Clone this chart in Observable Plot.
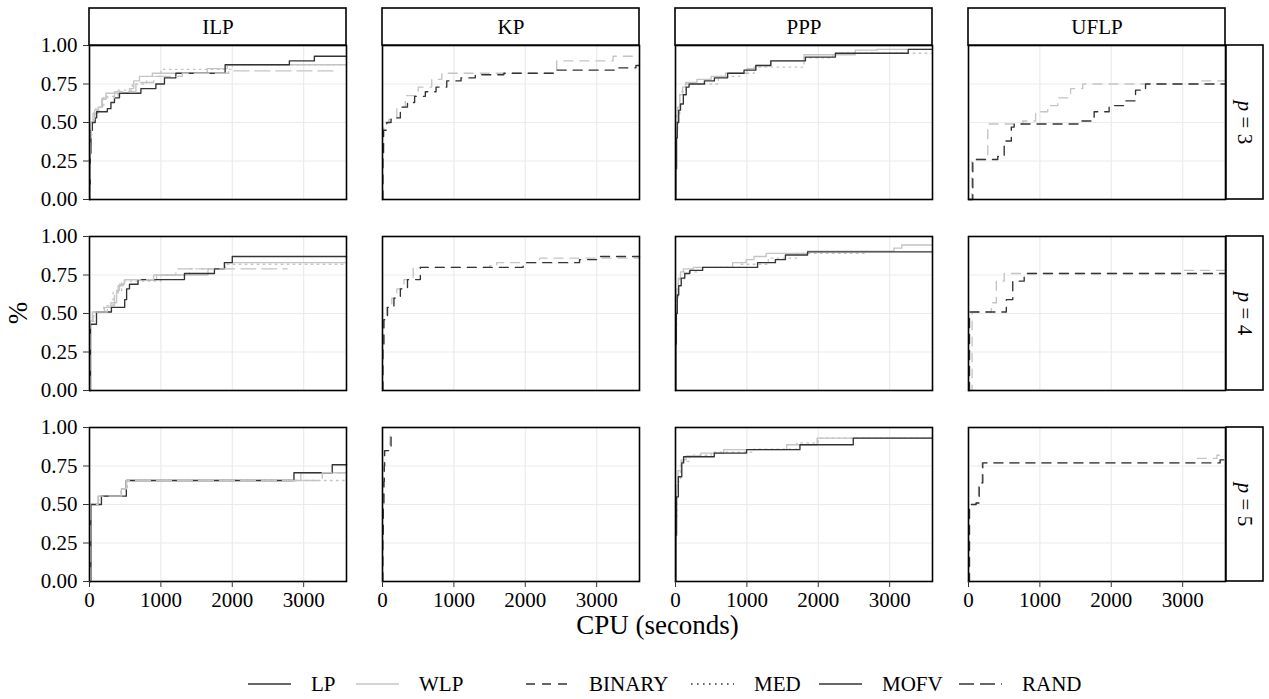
<!DOCTYPE html>
<html><head><meta charset="utf-8">
<script src="https://cdn.jsdelivr.net/npm/d3@7"></script>
<script src="https://cdn.jsdelivr.net/npm/@observablehq/plot@0.6"></script>
<style>
body{margin:0;background:#fff;}
#chart{position:relative;width:1269px;height:699px;background:#fff;font-family:"Liberation Serif",serif;}
#chart svg{display:block;}
#chart svg, #chart svg text{font-family:"Liberation Serif",serif !important;}
</style></head><body><div id="chart"></div>
<script>
// ---------- categories / ticks ----------
const problems = ["ILP", "KP", "PPP", "UFLP"];
const pValues = ["3", "4", "5"];
const models = ["LP", "WLP"];
const rules = ["BINARY", "MED", "MOFV", "RAND"];
const xTicks = [0, 1000, 2000, 3000];
const yTicks = [0, 0.25, 0.5, 0.75, 1];

// ---------- series: [CPU seconds, fraction solved] ----------
// ILP, p = 3
const ILP3_WLP_MED  = [[0,0],[10,0.4],[30,0.52],[90,0.6],[200,0.67],[400,0.71],[600,0.75],[800,0.8],[1000,0.845],[1500,0.845],[2000,0.875],[3600,0.875]];
const ILP3_WLP_RAND = [[0,0],[8,0.4],[25,0.52],[70,0.58],[180,0.66],[350,0.7],[650,0.76],[900,0.8],[1300,0.82],[1950,0.835],[3480,0.835]];
const ILP3_WLP_MOFV = [[0,0],[8,0.35],[20,0.5],[50,0.56],[120,0.6],[170,0.65],[230,0.69],[560,0.72],[620,0.77],[700,0.8],[880,0.82],[1650,0.85],[1930,0.875],[3600,0.875]];
const ILP3_LP_MOFV  = [[0,0],[10,0.3],[20,0.45],[40,0.5],[80,0.53],[100,0.57],[250,0.59],[300,0.63],[350,0.66],[420,0.69],[720,0.72],[930,0.75],[1050,0.79],[1210,0.82],[1900,0.875],[2800,0.9],[3150,0.93],[3600,0.93]];
// KP, p = 3
const KP3_WLP_BIN = [[0,0],[5,0.35],[15,0.5],[90,0.52],[200,0.6],[320,0.675],[500,0.73],[690,0.78],[830,0.82],[2440,0.9],[3230,0.93],[3600,0.93]];
const KP3_LP_BIN  = [[0,0],[5,0.3],[15,0.45],[60,0.5],[120,0.53],[250,0.6],[350,0.63],[450,0.67],[600,0.7],[750,0.73],[900,0.77],[1100,0.79],[1300,0.81],[1700,0.82],[2400,0.84],[3300,0.855],[3550,0.87],[3600,0.87]];
// PPP, p = 3
const PPP3_WLP_MED  = [[0,0],[5,0.4],[20,0.55],[60,0.7],[150,0.75],[600,0.8],[900,0.82],[1100,0.86],[1800,0.92],[2200,0.95],[3600,0.95]];
const PPP3_WLP_MOFV = [[0,0],[4,0.3],[10,0.45],[30,0.6],[60,0.68],[100,0.73],[140,0.76],[300,0.78],[500,0.8],[700,0.82],[1000,0.85],[1125,0.87],[1335,0.9],[1800,0.94],[2520,0.97],[2820,0.975],[3600,0.975]];
const PPP3_LP_MOFV  = [[0,0],[5,0.2],[15,0.4],[25,0.5],[45,0.58],[70,0.62],[110,0.68],[150,0.73],[190,0.75],[405,0.77],[545,0.79],[730,0.82],[960,0.84],[1125,0.87],[1335,0.9],[1820,0.925],[2240,0.95],[3260,0.975],[3600,0.975]];
// UFLP, p = 3
const UFLP3_WLP_BIN = [[0,0],[45,0.26],[270,0.49],[760,0.51],[940,0.57],[1110,0.61],[1250,0.66],[1430,0.72],[1600,0.75],[3250,0.77],[3600,0.77]];
const UFLP3_LP_BIN  = [[0,0],[60,0.26],[410,0.28],[500,0.38],[600,0.47],[640,0.49],[1570,0.51],[1760,0.57],[1970,0.61],[2200,0.64],[2340,0.71],[2480,0.75],[3600,0.75]];
// ILP, p = 4
const ILP4_WLP_MED  = [[0,0],[10,0.45],[60,0.51],[200,0.55],[330,0.64],[450,0.71],[1000,0.75],[1400,0.79],[1900,0.82],[3600,0.82]];
const ILP4_WLP_RAND = [[0,0],[10,0.45],[50,0.51],[250,0.55],[350,0.62],[400,0.68],[470,0.72],[900,0.75],[1210,0.79],[2770,0.79]];
const ILP4_WLP_MOFV = [[0,0],[10,0.45],[40,0.51],[210,0.54],[300,0.57],[380,0.65],[420,0.69],[490,0.72],[940,0.75],[1660,0.79],[1890,0.83],[3600,0.83]];
const ILP4_LP_MOFV  = [[0,0],[15,0.43],[98,0.51],[307,0.54],[493,0.59],[520,0.66],[560,0.69],[680,0.72],[1330,0.76],[1750,0.79],[1890,0.83],[2000,0.87],[3600,0.87]];
// KP, p = 4
const KP4_WLP_BIN = [[0,0],[5,0.3],[15,0.46],[60,0.54],[130,0.6],[200,0.66],[300,0.72],[430,0.8],[1500,0.81],[1600,0.83],[2200,0.86],[3600,0.87]];
const KP4_LP_BIN  = [[0,0],[5,0.3],[20,0.46],[70,0.54],[160,0.6],[250,0.66],[350,0.72],[530,0.8],[1970,0.83],[2760,0.85],[3050,0.87],[3600,0.87]];
// PPP, p = 4
const PPP4_WLP_MED  = [[0,0],[5,0.4],[15,0.6],[40,0.72],[120,0.77],[300,0.8],[900,0.82],[1300,0.86],[1700,0.89],[2690,0.89]];
const PPP4_WLP_MOFV = [[0,0],[4,0.35],[10,0.55],[20,0.66],[40,0.73],[70,0.77],[110,0.79],[250,0.8],[800,0.83],[990,0.85],[1100,0.87],[1270,0.89],[1850,0.905],[3060,0.925],[3170,0.945],[3600,0.945]];
const PPP4_LP_MOFV  = [[0,0],[5,0.3],[12,0.5],[25,0.62],[45,0.68],[80,0.73],[130,0.76],[200,0.78],[380,0.8],[1150,0.83],[1400,0.85],[1540,0.88],[1850,0.9],[3600,0.9]];
// UFLP, p = 4
const UFLP4_WLP_BIN = [[0,0],[50,0.51],[320,0.57],[390,0.71],[500,0.76],[2970,0.78],[3600,0.78]];
const UFLP4_LP_BIN  = [[0,0],[14,0.51],[530,0.59],[620,0.71],[780,0.76],[3600,0.76]];
// ILP, p = 5
const ILP5_WLP_MED  = [[0,0],[15,0.5],[130,0.554],[440,0.602],[530,0.656],[3600,0.656]];
const ILP5_WLP_RAND = [[0,0],[15,0.5],[120,0.554],[450,0.602],[520,0.656],[3260,0.706],[3600,0.706]];
const ILP5_WLP_MOFV = [[0,0],[15,0.5],[121,0.554],[446,0.602],[516,0.656],[2960,0.706],[3600,0.706]];
const ILP5_LP_MOFV  = [[0,0],[20,0.5],[167,0.554],[516,0.656],[2864,0.706],[3400,0.758],[3600,0.758]];
// KP, p = 5
const KP5_WLP_BIN = [[0,0],[3,0.35],[8,0.55],[15,0.7],[22,0.8],[28,0.85],[100,0.9],[106,0.95],[160,0.95]];
const KP5_LP_BIN  = [[0,0],[4,0.3],[10,0.5],[20,0.65],[25,0.75],[30,0.85],[110,0.85],[120,0.95],[175,0.95]];
// PPP, p = 5
const PPP5_WLP_MED  = [[0,0],[5,0.4],[20,0.65],[70,0.78],[200,0.82],[500,0.84],[1100,0.86],[1700,0.9],[2000,0.93],[3600,0.93]];
const PPP5_WLP_MOFV = [[0,0],[4,0.35],[12,0.6],[35,0.72],[80,0.79],[150,0.815],[356,0.834],[675,0.856],[1557,0.888],[1984,0.931],[3600,0.931]];
const PPP5_LP_MOFV  = [[0,0],[5,0.3],[15,0.55],[40,0.68],[88,0.77],[114,0.81],[543,0.834],[996,0.856],[1743,0.888],[2490,0.931],[3600,0.931]];
// UFLP, p = 5
const UFLP5_WLP_BIN = [[0,0],[10,0.5],[100,0.51],[140,0.64],[190,0.77],[3200,0.8],[3480,0.82],[3600,0.82]];
const UFLP5_LP_BIN  = [[0,0],[14,0.5],[107,0.51],[150,0.64],[200,0.77],[3525,0.79],[3600,0.79]];

// ---------- curve table ----------
const curves = [
  ["ILP","3","WLP","MED",ILP3_WLP_MED],["ILP","3","WLP","RAND",ILP3_WLP_RAND],["ILP","3","WLP","MOFV",ILP3_WLP_MOFV],["ILP","3","LP","MOFV",ILP3_LP_MOFV],
  ["KP","3","WLP","BINARY",KP3_WLP_BIN],["KP","3","LP","BINARY",KP3_LP_BIN],
  ["PPP","3","WLP","MED",PPP3_WLP_MED],["PPP","3","WLP","MOFV",PPP3_WLP_MOFV],["PPP","3","LP","MOFV",PPP3_LP_MOFV],
  ["UFLP","3","WLP","BINARY",UFLP3_WLP_BIN],["UFLP","3","LP","BINARY",UFLP3_LP_BIN],
  ["ILP","4","WLP","MED",ILP4_WLP_MED],["ILP","4","WLP","RAND",ILP4_WLP_RAND],["ILP","4","WLP","MOFV",ILP4_WLP_MOFV],["ILP","4","LP","MOFV",ILP4_LP_MOFV],
  ["KP","4","WLP","BINARY",KP4_WLP_BIN],["KP","4","LP","BINARY",KP4_LP_BIN],
  ["PPP","4","WLP","MED",PPP4_WLP_MED],["PPP","4","WLP","MOFV",PPP4_WLP_MOFV],["PPP","4","LP","MOFV",PPP4_LP_MOFV],
  ["UFLP","4","WLP","BINARY",UFLP4_WLP_BIN],["UFLP","4","LP","BINARY",UFLP4_LP_BIN],
  ["ILP","5","WLP","MED",ILP5_WLP_MED],["ILP","5","WLP","RAND",ILP5_WLP_RAND],["ILP","5","WLP","MOFV",ILP5_WLP_MOFV],["ILP","5","LP","MOFV",ILP5_LP_MOFV],
  ["KP","5","WLP","BINARY",KP5_WLP_BIN],["KP","5","LP","BINARY",KP5_LP_BIN],
  ["PPP","5","WLP","MED",PPP5_WLP_MED],["PPP","5","WLP","MOFV",PPP5_WLP_MOFV],["PPP","5","LP","MOFV",PPP5_LP_MOFV],
  ["UFLP","5","WLP","BINARY",UFLP5_WLP_BIN],["UFLP","5","LP","BINARY",UFLP5_LP_BIN]
];
const rows = curves.flatMap(([problem, p, model, rule, pts], id) =>
  pts.map(([t, v]) => ({problem, p, model, rule, id, t, v})));

// ---------- layout ----------
const W = 1269, H = 672, ML = 88, MR = 42, MT = 45, MB = 91;
const fxPad = 0.1215, fyPad = 0.194;
const bw = (W - ML - MR) / (problems.length - fxPad) * (1 - fxPad);
const bh = (H - MT - MB) / (pValues.length - fyPad) * (1 - fyPad);
const stripH = 37, stripW = 38;
const DARK = "#333333", LIGHT = "#c4c4c4";
const FONT = '"Liberation Serif", serif';
const dash = {BINARY: "9,7", MED: "1.6,4.4", MOFV: null, RAND: "15,6"};

const lineMarks = rules.map(r => Plot.line(rows.filter(d => d.rule === r), {
  x: "t", y: "v", z: "id", stroke: "model", fx: "problem", fy: "p",
  curve: "step-after", strokeWidth: 1.35, strokeDasharray: dash[r] || undefined
}));

const topStrip = problems.map(problem => ({problem, p: pValues[0]}));
const rightStrip = pValues.map(p => ({problem: problems[problems.length - 1], p}));

const plot = Plot.plot({
  width: W, height: H,
  marginLeft: ML, marginRight: MR, marginTop: MT, marginBottom: MB,
  style: {fontFamily: FONT, fontSize: "21px", color: "black", background: "white"},
  fx: {domain: problems, paddingInner: fxPad, paddingOuter: 0, axis: null, label: null},
  fy: {domain: pValues, paddingInner: fyPad, paddingOuter: 0, axis: null, label: null},
  x: {domain: [0, 3600], label: null},
  y: {domain: [0, 1], label: null},
  color: {domain: models, range: [DARK, LIGHT]},
  marks: [
    Plot.gridX(xTicks, {stroke: "#ebebeb", strokeOpacity: 1, strokeWidth: 1.2}),
    Plot.gridY(yTicks, {stroke: "#ebebeb", strokeOpacity: 1, strokeWidth: 1.2}),
    ...lineMarks,
    Plot.frame({stroke: "black", strokeWidth: 1.6}),
    Plot.axisX(xTicks, {tickSize: 6, tickPadding: 5, label: null, tickFormat: d3.format("d"), stroke: "#333", fill: "black", fontSize: 21}),
    Plot.axisY(yTicks, {tickSize: 6, tickPadding: 6, label: null, tickFormat: d3.format(".2f"), stroke: "#333", fill: "black", fontSize: 21}),
    Plot.rect(topStrip, {fx: "problem", fy: "p", insetTop: -stripH, insetBottom: bh, fill: "white", stroke: "black", strokeWidth: 1.6}),
    Plot.text(topStrip, {fx: "problem", fy: "p", text: "problem", frameAnchor: "top", lineAnchor: "middle", textAnchor: "middle", dy: -stripH / 2, fill: "black", fontSize: 21}),
    Plot.rect(rightStrip, {fx: "problem", fy: "p", insetLeft: bw, insetRight: -stripW, fill: "white", stroke: "black", strokeWidth: 1.6}),
    Plot.text(rightStrip, {fx: "problem", fy: "p", text: d => "p = " + d.p, frameAnchor: "right", lineAnchor: "middle", textAnchor: "middle", dx: stripW / 2, rotate: 90, fill: "black", fontSize: 21})
  ]
});

const svg = d3.select(plot);
// italic p in row strips
svg.selectAll("text").filter(function () { return /^p = /.test(this.textContent); }).each(function () {
  const rest = this.textContent.slice(1);
  this.textContent = "";
  d3.select(this).append("tspan").attr("font-style", "italic").text("p");
  d3.select(this).append("tspan").text(rest);
});
// axis titles
svg.append("text").attr("x", ML + (W - ML - MR) / 2).attr("y", 634)
  .attr("text-anchor", "middle").attr("font-size", 27).attr("fill", "black")
  .attr("font-family", FONT).text("CPU (seconds)");
svg.append("text").attr("transform", `translate(18,${MT + (H - MT - MB) / 2}) rotate(-90)`)
  .attr("text-anchor", "middle").attr("dominant-baseline", "central")
  .attr("font-size", 27).attr("fill", "black").attr("font-family", FONT).text("%");

document.getElementById("chart").appendChild(plot);

// ---------- legend ----------
const legendItems = [
  {label: "LP", color: DARK, dash: null, x: 248},
  {label: "WLP", color: LIGHT, dash: null, x: 356},
  {label: "BINARY", color: DARK, dash: dash.BINARY, x: 526},
  {label: "MED", color: DARK, dash: dash.MED, x: 691},
  {label: "MOFV", color: DARK, dash: dash.MOFV, x: 819},
  {label: "RAND", color: DARK, dash: dash.RAND, x: 959}
];
const leg = d3.select("#chart").append("svg").attr("width", W).attr("height", 699 - H)
  .style("font-family", FONT);
const gi = leg.selectAll("g").data(legendItems).join("g").attr("transform", d => `translate(${d.x},12)`);
gi.append("line").attr("x1", 0).attr("x2", 43).attr("y1", 0).attr("y2", 0)
  .attr("stroke", d => d.color).attr("stroke-width", 1.5)
  .attr("stroke-dasharray", d => d.dash);
gi.append("text").attr("x", 63).attr("y", 0).attr("dy", "0.35em").attr("font-size", 21)
  .attr("fill", "black").attr("font-family", FONT).text(d => d.label);
</script></body></html>
